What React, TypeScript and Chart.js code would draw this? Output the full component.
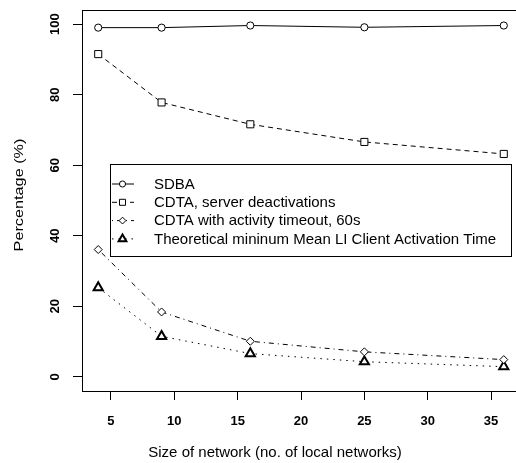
import React, { useEffect, useRef } from "react";
import { Chart, registerables } from "chart.js";

Chart.register(...registerables);

const networkSizes = [4, 9, 16, 25, 36];
const sdba = [99.0, 99.0, 99.6, 99.1, 99.6];
const cdtaServer = [91.5, 77.8, 71.6, 66.6, 63.2];
const cdtaTimeout = [36.1, 18.4, 10.1, 7.1, 4.9];
const theoreticalMin = [25.3, 11.5, 6.6, 4.3, 2.9];
const seriesLabels = [
  "SDBA",
  "CDTA, server deactivations",
  "CDTA with activity timeout, 60s",
  "Theoretical mininum Mean LI Client Activation Time",
];
const xTickValues = [5, 10, 15, 20, 25, 30, 35];
const yTickValues = [0, 20, 40, 60, 80, 100];
const xTitle = "Size of network (no. of local networks)";
const yTitle = "Percentage (%)";

const FONT = "'Liberation Sans', Arial, Helvetica, sans-serif";

function drawSymbol(ctx: CanvasRenderingContext2D, style: string, x: number, y: number, r: number) {
  ctx.beginPath();
  if (style === "circle") {
    ctx.arc(x, y, r, 0, Math.PI * 2);
  } else if (style === "rect") {
    const s = Math.SQRT1_2 * r;
    ctx.rect(x - s, y - s, 2 * s, 2 * s);
  } else if (style === "rectRot") {
    ctx.moveTo(x, y - r);
    ctx.lineTo(x + r, y);
    ctx.lineTo(x, y + r);
    ctx.lineTo(x - r, y);
    ctx.closePath();
  } else if (style === "triangle") {
    let rad = 0;
    ctx.moveTo(x + Math.sin(rad) * r, y - Math.cos(rad) * r);
    rad += (2 * Math.PI) / 3;
    ctx.lineTo(x + Math.sin(rad) * r, y - Math.cos(rad) * r);
    rad += (2 * Math.PI) / 3;
    ctx.lineTo(x + Math.sin(rad) * r, y - Math.cos(rad) * r);
    ctx.closePath();
  }
  ctx.fill();
  ctx.stroke();
}

const decorPlugin = {
  id: "decor",
  afterDraw(chart: any) {
    const ctx: CanvasRenderingContext2D = chart.ctx;
    const { left, top, right, bottom } = chart.chartArea;
    ctx.save();
    // plot box
    ctx.strokeStyle = "#000";
    ctx.lineWidth = 1;
    ctx.strokeRect(Math.round(left) + 0.5, Math.round(top) + 0.5, Math.round(right - left), Math.round(bottom - top));

    // y tick labels (rotated, R style)
    const yScale = chart.scales.y;
    ctx.fillStyle = "#000";
    ctx.font = `bold 13px ${FONT}`;
    ctx.textAlign = "center";
    ctx.textBaseline = "alphabetic";
    yTickValues.forEach((v) => {
      const py = yScale.getPixelForValue(v);
      ctx.save();
      ctx.translate(59, py);
      ctx.rotate(-Math.PI / 2);
      ctx.fillText(String(v), 0, 0);
      ctx.restore();
    });

    // axis titles
    ctx.font = `15px ${FONT}`;
    ctx.textAlign = "center";
    ctx.textBaseline = "middle";
    ctx.fillText(xTitle, 275, 453);
    ctx.save();
    ctx.font = `13px ${FONT}`;
    ctx.translate(19, 195);
    ctx.rotate(-Math.PI / 2);
    ctx.scale(1.25, 1);
    ctx.fillText(yTitle, 0, 0);
    ctx.restore();

    // legend
    const lx0 = 110.5, ly0 = 164.5, lx1 = 511.5, ly1 = 256.5;
    ctx.fillStyle = "#fff";
    ctx.fillRect(lx0, ly0, lx1 - lx0, ly1 - ly0);
    ctx.strokeStyle = "#000";
    ctx.lineWidth = 1;
    ctx.strokeRect(lx0, ly0, lx1 - lx0, ly1 - ly0);
    chart.data.datasets.forEach((ds: any, i: number) => {
      const y = 184 + i * 18.3;
      ctx.save();
      ctx.strokeStyle = "#000";
      ctx.lineWidth = 1;
      ctx.setLineDash(ds.borderDash || []);
      ctx.beginPath();
      ctx.moveTo(112, y);
      ctx.lineTo(134, y);
      ctx.stroke();
      ctx.setLineDash([]);
      ctx.fillStyle = "#fff";
      ctx.lineWidth = ds.pointBorderWidth;
      drawSymbol(ctx, ds.pointStyle, 122.5, y, ds.pointRadius * 0.85);
      ctx.restore();
      ctx.fillStyle = "#000";
      ctx.font = `15px ${FONT}`;
      ctx.textAlign = "left";
      ctx.textBaseline = "middle";
      ctx.fillText(ds.label, 154, y + 0.5);
    });
    ctx.restore();
  },
};

export default function App() {
  const ref = useRef<HTMLCanvasElement>(null);
  useEffect(() => {
    document.body.style.margin = "0";
    const toPts = (arr: number[]) => networkSizes.map((x, i) => ({ x, y: arr[i] }));
    const base = {
      borderColor: "#000",
      borderWidth: 1,
      pointBorderColor: "#000",
      pointBackgroundColor: "#fff",
      showLine: true,
      fill: false,
      tension: 0,
    };
    const chart = new Chart(ref.current!, {
      type: "scatter",
      data: {
        datasets: [
          { ...base, label: seriesLabels[0], data: toPts(sdba), pointStyle: "circle", pointRadius: 3.6, pointBorderWidth: 1, borderDash: [] },
          { ...base, label: seriesLabels[1], data: toPts(cdtaServer), pointStyle: "rect", pointRadius: 5, pointBorderWidth: 1, borderDash: [5, 4] },
          { ...base, label: seriesLabels[2], data: toPts(cdtaTimeout), pointStyle: "rectRot", pointRadius: 4, pointBorderWidth: 1, borderDash: [1, 4, 5, 4] },
          { ...base, label: seriesLabels[3], data: toPts(theoreticalMin), pointStyle: "triangle", pointRadius: 5.3, pointBorderWidth: 2, borderDash: [1.5, 5] },
        ],
      } as any,
      options: {
        responsive: false,
        animation: false,
        layout: { padding: { top: 10, right: 10, left: 0, bottom: 0 } },
        plugins: { legend: { display: false }, tooltip: { enabled: false } },
        scales: {
          x: {
            type: "linear",
            min: 2.72,
            max: 37.28,
            afterBuildTicks: (s: any) => {
              s.ticks = xTickValues.map((v) => ({ value: v }));
            },
            afterFit: (s: any) => {
              s.height = 72;
            },
            grid: { drawOnChartArea: false, drawTicks: true, tickLength: 9, color: "#000", lineWidth: 1 },
            border: { display: false },
            ticks: {
              color: "#000",
              font: { family: FONT, size: 13, weight: "bold" },
              padding: 14,
              maxRotation: 0,
              autoSkip: false,
            },
          },
          y: {
            type: "linear",
            min: -4,
            max: 104,
            afterBuildTicks: (s: any) => {
              s.ticks = yTickValues.map((v) => ({ value: v }));
            },
            afterFit: (s: any) => {
              s.width = 82;
            },
            grid: { drawOnChartArea: false, drawTicks: true, tickLength: 9, color: "#000", lineWidth: 1 },
            border: { display: false },
            ticks: { display: false },
          },
        },
      } as any,
      plugins: [decorPlugin],
    });
    return () => chart.destroy();
  }, []);
  return (
    <div style={{ position: "absolute", left: 0, top: 0, width: 516, height: 463, overflow: "hidden", background: "#fff" }}>
      <canvas ref={ref} width={530} height={463} style={{ display: "block" }} />
    </div>
  );
}
